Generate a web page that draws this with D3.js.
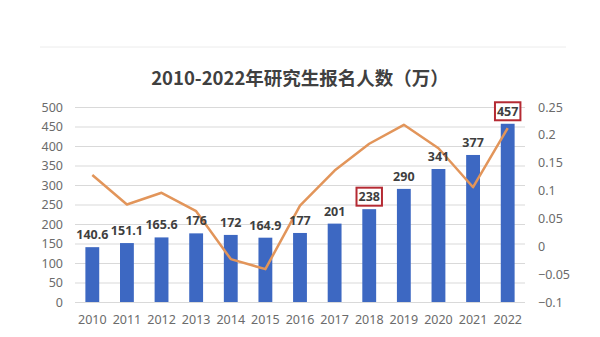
<!DOCTYPE html>
<html>
<head>
<meta charset="utf-8">
<script src="https://cdn.jsdelivr.net/npm/d3@7"></script>
<style>
  html, body { margin: 0; padding: 0; background: #fff; }
  svg { display: block; }
</style>
</head>
<body>
<svg id="chart" width="600" height="337"></svg>
<script>
const years = ["2010","2011","2012","2013","2014","2015","2016","2017","2018","2019","2020","2021","2022"];
const applicants = [140.6, 151.1, 165.6, 176, 172, 164.9, 177, 201, 238, 290, 341, 377, 457];
const growth = [0.128, 0.075, 0.096, 0.063, -0.023, -0.041, 0.073, 0.136, 0.184, 0.218, 0.176, 0.106, 0.212];
const leftTicks = [0, 50, 100, 150, 200, 250, 300, 350, 400, 450, 500];
const rightTicks = [-0.1, -0.05, 0, 0.05, 0.1, 0.15, 0.2, 0.25];
const highlighted = ["2018", "2022"];
const title = "2010-2022年研究生报名人数（万）";

const svg = d3.select("#chart");
const plot = { left: 75, right: 525, top: 107, bottom: 302 };

// faint frame line at top
svg.append("line").attr("x1", 40).attr("x2", 566).attr("y1", 47).attr("y2", 47)
  .attr("stroke", "#ececec").attr("stroke-width", 1);

svg.append("text").attr("x", 300).attr("y", 85).attr("text-anchor", "middle")
  .attr("font-family", "'Noto Sans CJK SC', sans-serif").attr("font-weight", "bold")
  .attr("font-size", 18.5).attr("fill", "#404040").text(title);

const x = d3.scaleBand().domain(years).range([plot.left, plot.right]).paddingInner(0.6).paddingOuter(0.3);
const yL = d3.scaleLinear().domain([0, 500]).range([plot.bottom, plot.top]);
const yR = d3.scaleLinear().domain([-0.1, 0.25]).range([plot.bottom, plot.top]);

// gridlines
const gridAxis = d3.axisLeft(yL).tickValues(leftTicks).tickSize(-(plot.right - plot.left)).tickFormat("");
const grid = svg.append("g").attr("transform", `translate(${plot.left},0)`).call(gridAxis);
grid.select(".domain").remove();
grid.selectAll("line").attr("stroke", "#d9d9d9").attr("stroke-width", 1);

// left axis labels
const la = svg.append("g").attr("transform", `translate(${plot.left},0)`)
  .call(d3.axisLeft(yL).tickValues(leftTicks).tickSize(0).tickPadding(12));
la.select(".domain").remove();
la.selectAll("text").attr("font-family", "'Noto Sans', sans-serif").attr("font-size", 12.5).attr("fill", "#6b6b6b");

// right axis labels
const ra = svg.append("g").attr("transform", `translate(${plot.right},0)`)
  .call(d3.axisRight(yR).tickValues(rightTicks).tickSize(0).tickPadding(13).tickFormat(d => d3.format("")(+d.toFixed(2))));
ra.select(".domain").remove();
ra.selectAll("text").attr("font-family", "'Noto Sans', sans-serif").attr("font-size", 12.5).attr("fill", "#6b6b6b");

// x axis labels
const xa = svg.append("g").attr("transform", `translate(0,${plot.bottom})`)
  .call(d3.axisBottom(x).tickSize(0).tickPadding(13));
xa.select(".domain").remove();
xa.selectAll("text").attr("font-family", "'Noto Sans', sans-serif").attr("font-size", 12.5).attr("fill", "#6b6b6b");

// bars
svg.append("g").selectAll("rect").data(years).join("rect")
  .attr("x", d => x(d))
  .attr("width", x.bandwidth())
  .attr("y", (d, i) => yL(applicants[i]))
  .attr("height", (d, i) => plot.bottom - yL(applicants[i]))
  .attr("fill", "#3d68c2");

// growth line
const line = d3.line().x((d, i) => x(years[i]) + x.bandwidth() / 2).y(d => yR(d));
svg.append("path").datum(growth).attr("d", line)
  .attr("fill", "none").attr("stroke", "#e2955a").attr("stroke-width", 2.5)
  .attr("stroke-linejoin", "round");

// bar value labels
const labels = svg.append("g");
years.forEach((yr, i) => {
  const cx = x(yr) + x.bandwidth() / 2;
  const ty = yL(applicants[i]) - 8;
  const t = labels.append("text").attr("x", cx).attr("y", ty).attr("text-anchor", "middle")
    .attr("font-family", "'Noto Sans', sans-serif").attr("font-weight", "bold")
    .attr("font-size", 12.5).attr("fill", "#3f3f3f").text(applicants[i]);
  if (highlighted.includes(yr)) {
    const bb = t.node().getBBox();
    labels.insert("rect", "text").attr("x", bb.x - 2).attr("y", bb.y - 0.5)
      .attr("width", bb.width + 4).attr("height", bb.height + 1)
      .attr("fill", "#fff").attr("stroke", "#b52a33").attr("stroke-width", 2);
  }
});
</script>
</body>
</html>
